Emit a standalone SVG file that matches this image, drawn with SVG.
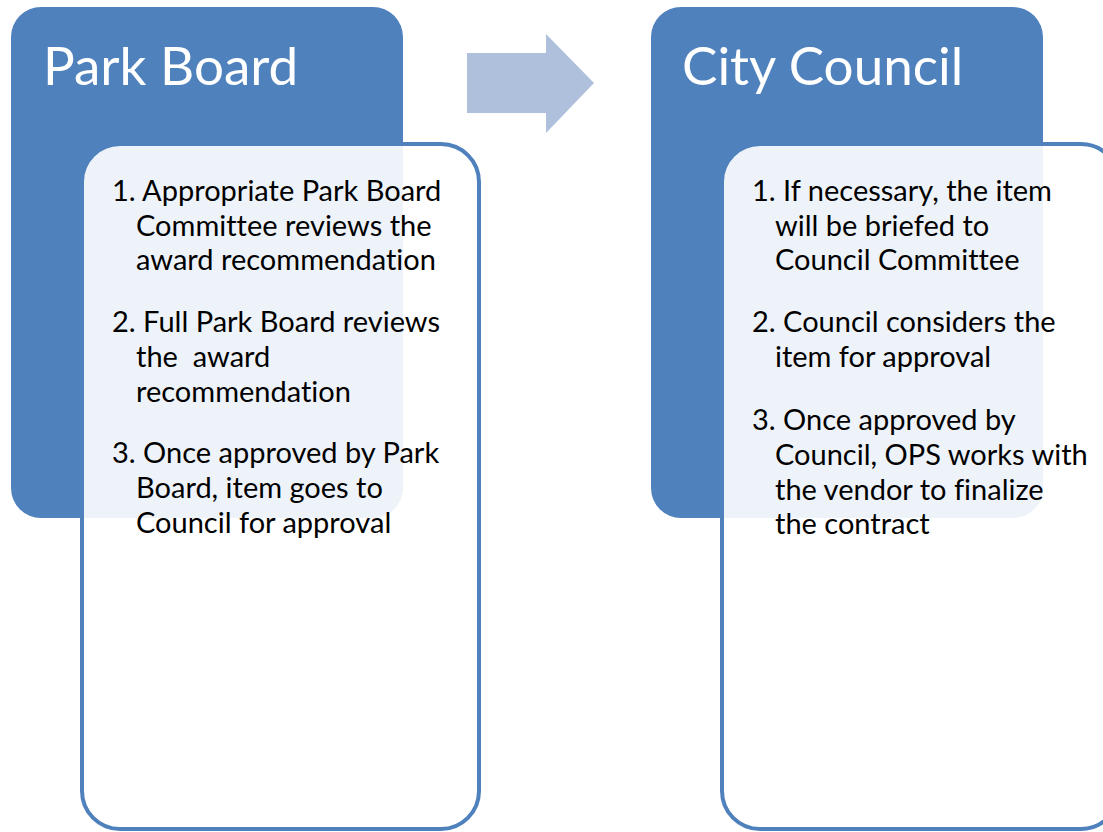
<svg xmlns="http://www.w3.org/2000/svg" width="1103" height="832" viewBox="0 0 1103 832">
<style>
.hdr{fill:#4F81BD;}
.card{fill:#FFFFFF;fill-opacity:0.9;stroke:#4F81BD;stroke-width:4;}
text{font-variant-ligatures:none;font-feature-settings:"liga" 0,"clig" 0;}
.title{font-family:Lato,"Open Sans",sans-serif;font-size:53px;fill:#FFFFFF;}
.body{font-family:Lato,"Open Sans",sans-serif;font-size:29px;fill:#000000;}
</style>
<rect width="1103" height="832" fill="#FFFFFF"/>
<g id="park-board">
<rect class="hdr" x="11" y="7" width="392" height="511" rx="30"/>
<text class="title" x="43" y="85">Park Board</text>
</g>
<g id="city-council">
<rect class="hdr" x="651" y="7" width="392" height="511" rx="30"/>
<text class="title" x="682" y="85">City Council</text>
</g>
<g id="park-board-steps">
<rect class="card" x="82" y="144" width="397" height="685" rx="38"/>
<text class="body">
<tspan x="112" y="201">1. Appropriate Park Board</tspan>
<tspan x="136" y="236">Committee reviews the</tspan>
<tspan x="136" y="270">award recommendation</tspan>
<tspan x="112" y="332">2. Full Park Board reviews</tspan>
<tspan x="136" y="367" xml:space="preserve">the  award</tspan>
<tspan x="136" y="402">recommendation</tspan>
<tspan x="112" y="463">3. Once approved by Park</tspan>
<tspan x="136" y="498">Board, item goes to</tspan>
<tspan x="136" y="533">Council for approval</tspan>
</text>
</g>
<g id="city-council-steps">
<rect class="card" x="722" y="144" width="397" height="685" rx="38"/>
<text class="body">
<tspan x="752" y="201">1. If necessary, the item</tspan>
<tspan x="775" y="236">will be briefed to</tspan>
<tspan x="775" y="270">Council Committee</tspan>
<tspan x="752" y="332">2. Council considers the</tspan>
<tspan x="775" y="367">item for approval</tspan>
<tspan x="752" y="430">3. Once approved by</tspan>
<tspan x="775" y="465">Council, OPS works with</tspan>
<tspan x="775" y="500">the vendor to finalize</tspan>
<tspan x="775" y="534">the contract</tspan>
</text>
</g>
<g id="connectors">
<polygon points="467,53 546,53 546,34 594,83 546,133 546,113 467,113" fill="#AFC0DC"/>
</g>
</svg>
